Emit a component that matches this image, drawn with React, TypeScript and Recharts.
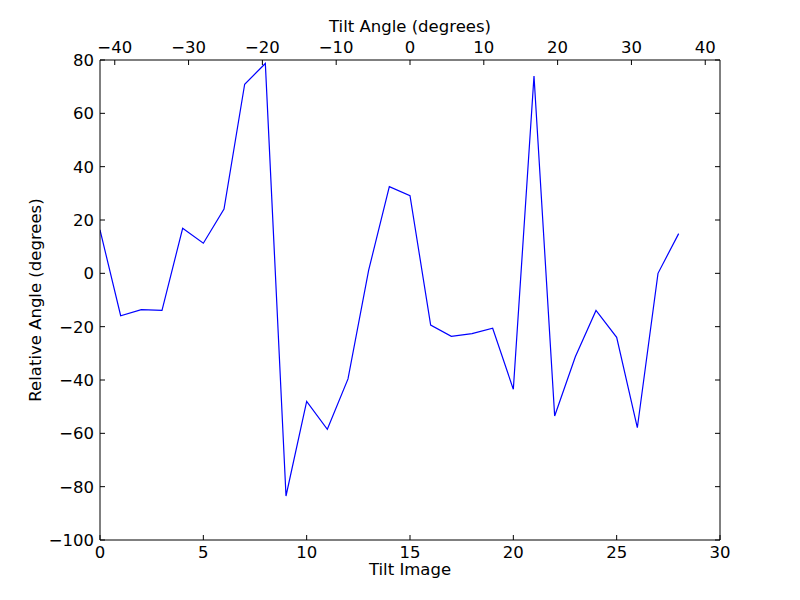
import React from 'react';
import { LineChart, Line, XAxis, YAxis } from 'recharts';

const tiltImages = [0, 1, 2, 3, 4, 5, 6, 7, 8, 9, 10, 11, 12, 13, 14, 15, 16, 17, 18, 19, 20, 21, 22, 23, 24, 25, 26, 27, 28];
const relativeAngles = [16.3, -15.9, -13.6, -13.9, 16.9, 11.3, 24.1, 70.9, 78.7, -83.5, -48, -58.5, -39.6, 1.2, 32.5, 29.1, -19.4, -23.6, -22.6, -20.6, -43.5, 74, -53.5, -31.3, -13.9, -24, -57.9, 0, 14.9];
const bottomTicks = [0, 5, 10, 15, 20, 25, 30];
const topTicks = [-40, -30, -20, -10, 0, 10, 20, 30, 40];
const leftTicks = [-100, -80, -60, -40, -20, 0, 20, 40, 60, 80];

const data = tiltImages.map((img, i) => ({ image: img, angle: relativeAngles[i] }));

const FONT = 'DejaVu Sans';
const FS = 16.5;
const fmt = (v: number) => String(v).replace('-', '\u2212');
const tickStyle = { fill: '#000', fontSize: FS, fontFamily: FONT };
const axisLine = { stroke: '#000', strokeWidth: 1 };
const tickLine = { stroke: '#000', strokeWidth: 1 };

export default function App() {
  return (
    <div style={{ position: 'absolute', left: 0, top: 0, width: 800, height: 600, background: '#fff' }}>
      <LineChart width={800} height={600} data={data} margin={{ top: 15, right: 60, bottom: 20, left: 20 }}>
        <XAxis
          xAxisId="bottom"
          dataKey="image"
          type="number"
          domain={[0, 30]}
          ticks={bottomTicks}
          interval={0}
          height={40}
          tickSize={-5}
          tickMargin={11}
          tick={tickStyle}
          tickFormatter={fmt}
          axisLine={axisLine}
          tickLine={tickLine}
          allowDataOverflow
          label={{ value: 'Tilt Image', position: 'insideBottom', offset: 5, style: { fill: '#000', fontSize: FS, fontFamily: FONT } }}
        />
        <XAxis
          xAxisId="top"
          orientation="top"
          dataKey="image"
          type="number"
          domain={[-42, 42]}
          ticks={topTicks}
          interval={0}
          height={45}
          tickSize={-5}
          tickMargin={12}
          tick={tickStyle}
          tickFormatter={fmt}
          axisLine={axisLine}
          tickLine={tickLine}
          allowDataOverflow
          label={{ value: 'Tilt Angle (degrees)', position: 'insideTop', offset: 5, style: { fill: '#000', fontSize: FS, fontFamily: FONT } }}
        />
        <YAxis
          yAxisId="left"
          type="number"
          domain={[-100, 80]}
          ticks={leftTicks}
          interval={0}
          width={80}
          tickSize={-5}
          tickMargin={11}
          tick={tickStyle}
          tickFormatter={fmt}
          axisLine={axisLine}
          tickLine={tickLine}
          allowDataOverflow
          label={{ value: 'Relative Angle (degrees)', angle: -90, position: 'insideLeft', offset: 15, style: { fill: '#000', fontSize: FS, fontFamily: FONT, textAnchor: 'middle' } }}
        />
        <YAxis
          yAxisId="right"
          orientation="right"
          type="number"
          domain={[-100, 80]}
          ticks={leftTicks}
          interval={0}
          width={20}
          tickSize={-5}
          tick={() => <g />}
          axisLine={axisLine}
          tickLine={tickLine}
          allowDataOverflow
        />
        <Line
          xAxisId="bottom"
          yAxisId="left"
          type="linear"
          dataKey="angle"
          stroke="#0000ff"
          strokeWidth={1.2}
          dot={false}
          activeDot={false}
          isAnimationActive={false}
        />
      </LineChart>
    </div>
  );
}
